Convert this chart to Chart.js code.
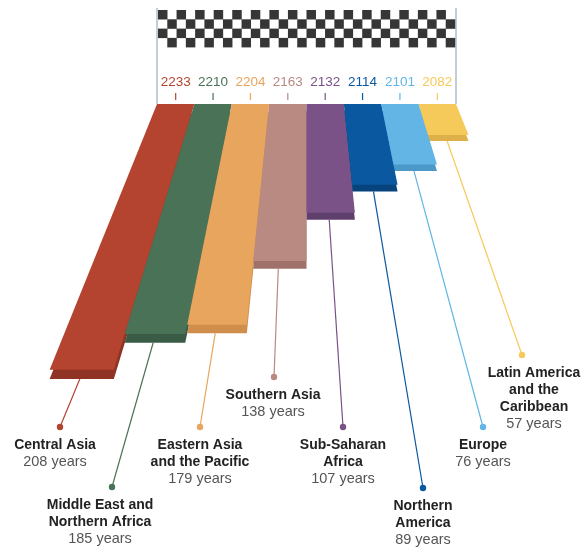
<!DOCTYPE html>
<html><head><meta charset="utf-8">
<script src="https://cdn.jsdelivr.net/npm/chart.js@4"></script>
<style>html,body{margin:0;padding:0;background:#fff}canvas{display:block}</style>
</head><body>
<canvas id="c" width="585" height="549"></canvas>
<script>
// ---- data ----
const regions = ["Central Asia","Middle East and Northern Africa","Eastern Asia and the Pacific","Southern Asia","Sub-Saharan Africa","Northern America","Europe","Latin America and the Caribbean"];
const years = [208, 185, 179, 138, 107, 89, 76, 57];
const endYears = ["2233","2210","2204","2163","2132","2114","2101","2082"];
const nameLines = [["Central Asia"],["Middle East and","Northern Africa"],["Eastern Asia","and the Pacific"],["Southern Asia"],["Sub-Saharan","Africa"],["Northern","America"],["Europe"],["Latin America","and the","Caribbean"]];
const yearTexts = ["208 years","185 years","179 years","138 years","107 years","89 years","76 years","57 years"];

// ---- styles / layout ----
const colors = ["#B4432F","#4A7257","#E8A55D","#B98A82","#7A5287","#0A58A0","#62B5E5","#F6C95B"];
const darks  = ["#8F3324","#3A5C46","#CF8E4C","#9F716A","#5F3F6C","#07437C","#4C98C8","#DDB049"];
const dotPos = [[60,427],[112,487],[200,427],[274,377],[343,427],[423,488],[483,427],[522,355]];
const textCx = [55,100,200,273,343,423,483,534];

const roadPlugin = {
  id: 'road',
  afterDatasetsDraw(chart) {
    const ctx = chart.ctx;
    const area = chart.chartArea;
    const meta = chart.getDatasetMeta(0);
    const top = area.top;
    const VPx = (area.left + area.right) / 2;
    const VPy = top - 370;
    const f = y => (y - VPy) / (top - VPy);
    const ex = (x0, y) => VPx + (x0 - VPx) * f(y);
    const th = y => 5.4 * f(y);

    // flag posts
    ctx.save();
    ctx.strokeStyle = '#C3CDD5';
    ctx.lineWidth = 2;
    [area.left, area.right].forEach(x => {
      ctx.beginPath(); ctx.moveTo(x, 8); ctx.lineTo(x, top); ctx.stroke();
    });
    // checkered flag
    const cols = 32, rows = 4;
    const cw = (area.right - area.left - 2) / cols, chh = 9.3;
    ctx.fillStyle = '#363636';
    for (let r = 0; r < rows; r++) for (let c = 0; c < cols; c++) {
      if ((r + c) % 2 === 0) ctx.fillRect(area.left + 1 + c * cw, 10 + r * chh, cw + 0.2, chh + 0.2);
    }

    const geo = meta.data.map(el => {
      const xl = el.x - el.width / 2, xr = el.x + el.width / 2, yb = el.y;
      return {xl, xr, yb, bl: ex(xl, yb), br: ex(xr, yb), t: th(yb), cx: el.x};
    });
    // extrusions (front & side faces)
    geo.forEach((g, i) => {
      ctx.fillStyle = darks[i];
      ctx.beginPath();
      ctx.moveTo(g.xl, top + g.t); ctx.lineTo(g.xr, top + g.t);
      ctx.lineTo(g.br, g.yb + g.t); ctx.lineTo(g.bl, g.yb + g.t);
      ctx.closePath(); ctx.fill();
    });
    // top faces
    geo.forEach((g, i) => {
      ctx.fillStyle = colors[i];
      ctx.beginPath();
      ctx.moveTo(g.xl, top); ctx.lineTo(g.xr, top);
      ctx.lineTo(g.br, g.yb); ctx.lineTo(g.bl, g.yb);
      ctx.closePath(); ctx.fill();
    });

    // end-year labels and ticks
    ctx.textAlign = 'center'; ctx.textBaseline = 'middle';
    ctx.font = '13.5px "Liberation Sans", Arial, sans-serif';
    geo.forEach((g, i) => {
      ctx.fillStyle = colors[i];
      ctx.fillText(endYears[i], g.cx, 82);
      ctx.strokeStyle = colors[i]; ctx.lineWidth = 1.2;
      ctx.beginPath(); ctx.moveTo(g.cx, 93); ctx.lineTo(g.cx, 100); ctx.stroke();
    });

    // leader lines, dots, labels
    geo.forEach((g, i) => {
      const sx = g.bl + (g.br - g.bl) * 0.47, sy = g.yb + g.t;
      const [dx, dy] = dotPos[i];
      ctx.strokeStyle = colors[i]; ctx.lineWidth = 1.2;
      ctx.beginPath(); ctx.moveTo(sx, sy); ctx.lineTo(dx, dy); ctx.stroke();
      ctx.fillStyle = colors[i];
      ctx.beginPath(); ctx.arc(dx, dy, 3.2, 0, Math.PI * 2); ctx.fill();
      let y = dy + 18;
      ctx.fillStyle = '#222222';
      ctx.font = 'bold 14px "Liberation Sans", Arial, sans-serif';
      nameLines[i].forEach(line => { ctx.fillText(line, textCx[i], y); y += 17; });
      ctx.fillStyle = '#555555';
      ctx.font = '14.5px "Liberation Sans", Arial, sans-serif';
      ctx.fillText(yearTexts[i], textCx[i], y);
    });
    ctx.restore();
  }
};

new Chart(document.getElementById('c').getContext('2d'), {
  type: 'bar',
  data: {
    labels: regions,
    datasets: [{ data: years, backgroundColor: 'rgba(0,0,0,0)', borderWidth: 0, barPercentage: 1, categoryPercentage: 1 }]
  },
  options: {
    responsive: false, animation: false, devicePixelRatio: 1,
    layout: { padding: { left: 157, right: 129, top: 104, bottom: 114 } },
    plugins: { legend: { display: false }, tooltip: { enabled: false } },
    scales: {
      x: { display: false },
      y: { display: false, reverse: true, min: 37, max: 250 }
    }
  },
  plugins: [roadPlugin]
});
</script>
</body></html>
